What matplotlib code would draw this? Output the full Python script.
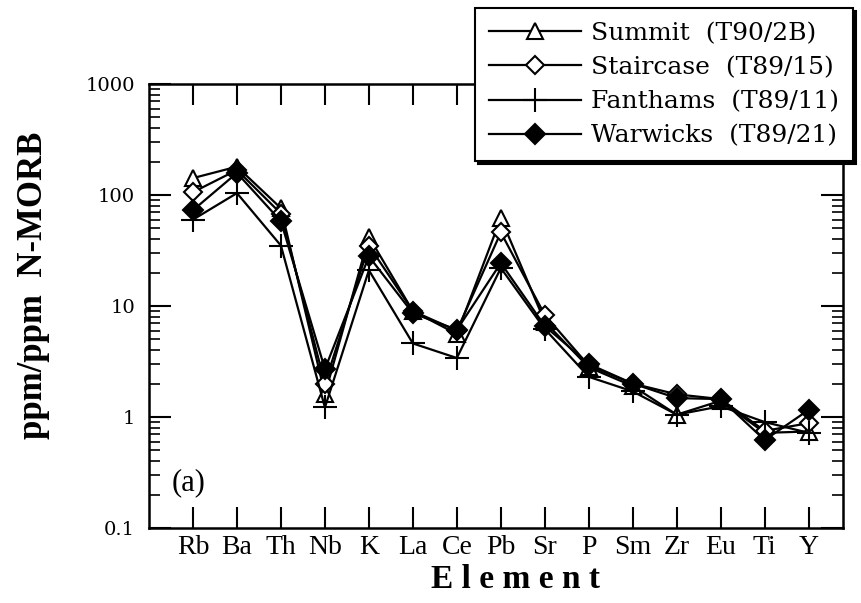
import matplotlib
matplotlib.use("Agg")
import matplotlib.pyplot as plt
from matplotlib.ticker import FixedLocator, FixedFormatter, LogLocator, NullFormatter

plt.rcParams["font.family"] = ["Liberation Serif", "DejaVu Serif"]

elements = ["Rb", "Ba", "Th", "Nb", "K", "La", "Ce", "Pb", "Sr", "P", "Sm", "Zr", "Eu", "Ti", "Y"]

summit = [142, 180, 76, 1.6, 42, 9.0, 5.6, 62, 7.2, 2.8, 1.9, 1.05, 1.4, 0.72, 0.74]
staircase = [106, 168, 68, 2.0, 35, 9.0, 6.0, 46, 8.3, 2.9, 2.0, 1.6, 1.45, 0.75, 0.88]
fanthams = [60, 104, 35, 1.22, 21, 4.6, 3.4, 22, 6.2, 2.3, 1.7, 1.05, 1.25, 0.9, 0.72]
warwicks = [73, 158, 58, 2.7, 28, 8.6, 6.1, 24.4, 6.6, 3.0, 2.0, 1.48, 1.45, 0.62, 1.16]

series_labels = ["Summit  (T90/2B)", "Staircase  (T89/15)", "Fanthams  (T89/11)", "Warwicks  (T89/21)"]

y_ticks = [0.1, 1, 10, 100, 1000]
y_tick_labels = ["0.1", "1", "10", "100", "1000"]

fig = plt.figure(figsize=(8.62, 6.03), dpi=100)
ax = fig.add_axes([149 / 862, 1 - 528 / 603, 694 / 862, 444 / 603])

x = list(range(1, len(elements) + 1))
styles = [
    dict(marker="^", mfc="white", mec="black", ms=11, mew=1.5),
    dict(marker="D", mfc="white", mec="black", ms=9, mew=1.5),
    dict(marker="+", mfc="black", mec="black", ms=17, mew=1.5),
    dict(marker="D", mfc="black", mec="black", ms=10, mew=1.5),
]
for vals, lab, st in zip([summit, staircase, fanthams, warwicks], series_labels, styles):
    ax.plot(x, vals, color="black", lw=1.6, label=lab, **st)

ax.set_yscale("log")
ax.set_ylim(0.1, 1000)
ax.set_xlim(0, 15.78)

ax.yaxis.set_major_locator(FixedLocator(y_ticks))
ax.yaxis.set_major_formatter(FixedFormatter(y_tick_labels))
ax.yaxis.set_minor_locator(LogLocator(base=10, subs=range(2, 10)))
ax.yaxis.set_minor_formatter(NullFormatter())

ax.xaxis.set_major_locator(FixedLocator(x))
ax.xaxis.set_major_formatter(FixedFormatter(elements))

ax.tick_params(axis="both", which="both", direction="in", top=True, right=True, color="black")
ax.tick_params(axis="y", which="major", length=16, width=1.5, pad=10)
ax.tick_params(axis="y", which="minor", length=8, width=1.2)
ax.tick_params(axis="x", which="major", length=15, width=1.5, labelsize=20, pad=5)
for lbl in ax.get_yticklabels():
    lbl.set_fontfamily("DejaVu Serif")
    lbl.set_fontsize(14)
for s in ax.spines.values():
    s.set_linewidth(1.8)

ax.set_ylabel("ppm/ppm  N-MORB", fontsize=25, fontweight="bold")
ax.yaxis.set_label_coords(-0.142, 0.547)
fig.text(516 / 862, 1 - 580 / 603, "E l e m e n t", fontsize=24, fontweight="bold",
         ha="center", va="center")

ax.text(0.032, 0.085, "(a)", transform=ax.transAxes, fontsize=22)

leg = ax.legend(loc="upper left", bbox_to_anchor=(0.47, 1.171), borderaxespad=0,
                prop={"family": "DejaVu Serif", "size": 18},
                handlelength=3.7, handletextpad=0.4, labelspacing=0.45,
                borderpad=0.55, fancybox=False, edgecolor="black", framealpha=1,
                shadow={"color": "black", "alpha": 1})
leg.get_frame().set_linewidth(1.5)

fig.savefig("out.png", dpi=100)
